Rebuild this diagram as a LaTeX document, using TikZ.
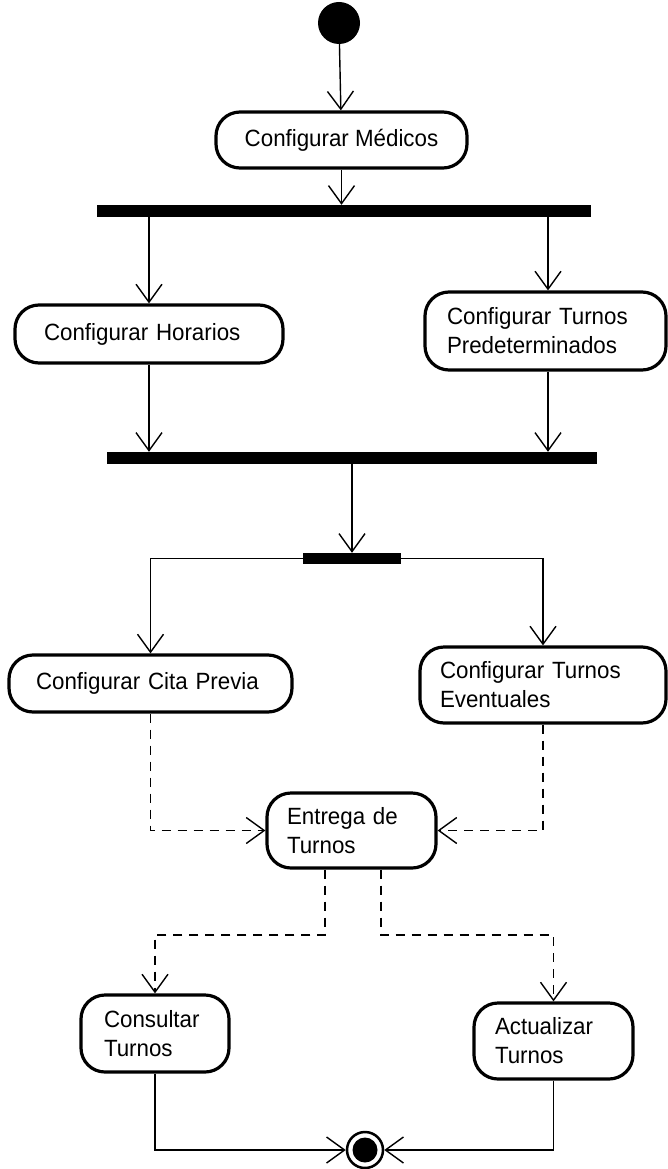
\documentclass[tikz,border=0pt]{standalone}
\usepackage{fontspec}
\setmainfont{Liberation Sans}[FakeStretch=0.95]
\usetikzlibrary{arrows.meta}
\begin{document}
\begin{tikzpicture}[x=1pt,y=-1pt,
  action/.style={draw, line width=3.2pt, rounded corners=24pt, inner sep=0pt,
    align=left, font=\fontsize{23.5}{29}\selectfont},
  bar/.style={fill=black, inner sep=0pt},
  flow/.style={line width=1.4pt,
    -{Straight Barb[length=18pt,width=26pt,line width=1.4pt]}},
  dflow/.style={flow, dash pattern=on 9pt off 7pt},
  ]
\useasboundingbox (0,0) rectangle (667,1169);

% initial and final states
\node[circle, fill=black, minimum size=42pt, inner sep=0pt] (start) at (339,23) {};
\node[circle, draw, line width=2.5pt, minimum size=36pt, inner sep=0pt] (stop) at (365,1150) {};
\fill (stop.center) circle (12.5pt);

% actions
\node[action, align=center, minimum width=251pt, minimum height=56pt] (med) at (341.5,140) {Configurar Médicos};
\node[action, text width=210pt, minimum width=268pt, minimum height=58pt] (hor) at (149,334) {Configurar Horarios};
\node[action, text width=197pt, minimum width=241pt, minimum height=78pt] (pre) at (545.5,331) {Configurar Turnos\\Predeterminados};
\node[action, text width=229pt, minimum width=283pt, minimum height=57pt] (cita) at (150.5,683.5) {Configurar Cita Previa};
\node[action, text width=206pt, minimum width=246pt, minimum height=76pt] (eve) at (543,685) {Configurar Turnos\\Eventuales};
\node[action, text width=129pt, minimum width=169pt, minimum height=75pt] (ent) at (351.5,830.5) {Entrega de\\Turnos};
\node[action, text width=102pt, minimum width=148pt, minimum height=77pt] (cons) at (155,1033.5) {Consultar\\Turnos};
\node[action, text width=117pt, minimum width=159pt, minimum height=76pt] (act) at (553.5,1041) {Actualizar\\Turnos};

% fork / join bars
\node[bar, minimum width=494pt, minimum height=12pt] (bar1) at (344,211) {};
\node[bar, minimum width=490pt, minimum height=12pt] (bar2) at (352,458) {};
\node[bar, minimum width=98pt, minimum height=11pt] (bar3) at (352,558.5) {};

\coordinate (split) at (0,935);

% control flow
\draw[flow] (start) -- (med);
\draw[flow] (med.south) -- (med.south |- bar1.north);
\draw[flow] (hor.north |- bar1.south) -- (hor.north);
\draw[flow] ([xshift=2.5pt]pre.north |- bar1.south) -- ([xshift=2.5pt]pre.north);
\draw[flow] (hor.south) -- (hor.south |- bar2.north);
\draw[flow] ([xshift=2.5pt]pre.south) -- ([xshift=2.5pt]pre.south |- bar2.north);
\draw[flow] (bar2.south) -- (bar3.north);
\draw[flow] (bar3.west) -| (cita.north);
\draw[flow] (bar3.east) -| (eve.north);

% object flow
\draw[dflow] (cita.south) |- (ent.west);
\draw[dflow] (eve.south) |- (ent.east);
\draw[dflow] ([xshift=-26.5pt]ent.south) -- ([xshift=-26.5pt]ent.south |- split) -| (cons.north);
\draw[dflow] ([xshift=29.5pt]ent.south) -- ([xshift=29.5pt]ent.south |- split) -| (act.north);

% to the final state
\draw[flow] (cons.south) |- (stop.west);
\draw[flow] (act.south) |- (stop.east);
\end{tikzpicture}
\end{document}
